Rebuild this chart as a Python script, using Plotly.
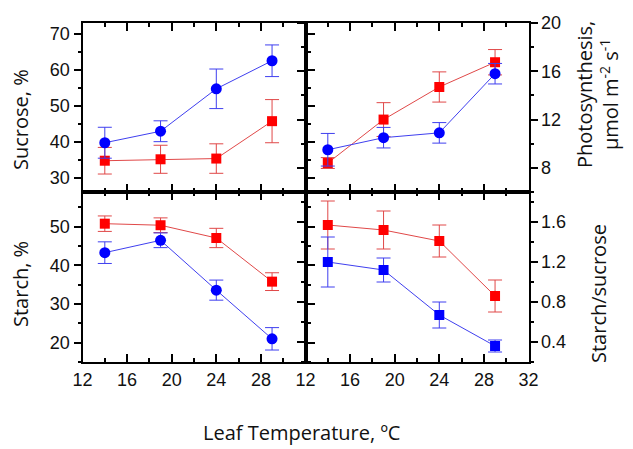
import plotly.graph_objects as go

# ---------------- data ----------------
temps = [14, 19, 24, 29]

sucrose_blue = [39.7, 42.9, 54.7, 62.5]
sucrose_blue_err = [4.3, 2.9, 5.5, 4.4]
sucrose_red = [34.7, 35.1, 35.3, 45.7]
sucrose_red_err = [3.7, 3.9, 4.1, 6.0]

photo_blue = [9.5, 10.5, 10.9, 15.8]
photo_blue_err = [1.35, 0.85, 0.85, 0.85]
photo_red = [8.4, 12.0, 14.7, 16.75]
photo_red_err = [0.45, 1.4, 1.25, 1.05]

starch_blue = [43.3, 46.5, 33.6, 21.0]
starch_blue_err = [2.8, 1.9, 2.6, 2.9]
starch_red = [50.8, 50.4, 47.1, 35.8]
starch_red_err = [2.0, 1.9, 2.5, 2.3]

ratio_blue = [1.20, 1.12, 0.67, 0.36]
ratio_blue_err = [0.25, 0.12, 0.13, 0.06]
ratio_red = [1.57, 1.52, 1.41, 0.86]
ratio_red_err = [0.24, 0.19, 0.16, 0.16]

x_ticks_left = [12, 16, 20, 24, 28]
x_ticks_right = [12, 16, 20, 24, 28, 32]

# ---------------- layout helpers ----------------
# the page body has an 8px margin, so the figure is drawn from (8, 8)
OFF = 8
W, H = 633 - OFF, 449 - OFF
def px(x):
    return (x - OFF) / W
def py(y):
    return 1 - (y - OFF) / H

X_L0, X_MID, X_R1 = 82.5, 305.5, 528.5
Y_T0, Y_MID, Y_B1 = 23, 192, 362

BLUE = "#0000FF"
RED = "#FF0000"
BLUE_LINE = "#3F3FEF"
RED_LINE = "#E04848"

fig = go.Figure()

def add_series(x, y, err, xa, ya, color, lcolor, symbol, size):
    fig.add_trace(go.Scatter(
        x=x, y=y, xaxis=xa, yaxis=ya, mode="lines+markers",
        line=dict(color=lcolor, width=1),
        marker=dict(color=color, symbol=symbol, size=size, line=dict(width=0)),
        error_y=dict(type="data", array=err, visible=True, color=lcolor,
                     thickness=1, width=7),
        showlegend=False, cliponaxis=False,
    ))

add_series(temps, sucrose_red, sucrose_red_err, "x", "y", RED, RED_LINE, "square", 10)
add_series(temps, sucrose_blue, sucrose_blue_err, "x", "y", BLUE, BLUE_LINE, "circle", 11)
add_series(temps, photo_red, photo_red_err, "x2", "y2", RED, RED_LINE, "square", 10)
add_series(temps, photo_blue, photo_blue_err, "x2", "y2", BLUE, BLUE_LINE, "circle", 11)
add_series(temps, starch_red, starch_red_err, "x3", "y3", RED, RED_LINE, "square", 10)
add_series(temps, starch_blue, starch_blue_err, "x3", "y3", BLUE, BLUE_LINE, "circle", 11)
add_series(temps, ratio_red, ratio_red_err, "x4", "y4", RED, RED_LINE, "square", 10)
add_series(temps, ratio_blue, ratio_blue_err, "x4", "y4", BLUE, BLUE_LINE, "square", 10)

TICKFONT = dict(family="Liberation Sans, Arial, sans-serif", size=18, color="#111111")
TITLEFONT = dict(family="Open Sans, Lato, sans-serif", size=20, color="#111111")

def xaxis(domain, anchor, labels, tickvals):
    return dict(
        domain=domain, anchor=anchor, range=[12, 32], showgrid=False, zeroline=False,
        automargin=False,
        showline=True, linecolor="black", linewidth=2, mirror="ticks",
        ticks="inside", ticklen=8, tickwidth=1.5, tickcolor="black",
        tickmode="array", tickvals=tickvals,
        showticklabels=labels, tickfont=TICKFONT,
        minor=dict(dtick=2, tick0=12, ticks="inside", ticklen=4, tickwidth=1.5, tickcolor="black"),
    )

def yaxis(domain, anchor, rng, dtick, minor, side):
    return dict(
        domain=domain, anchor=anchor, range=rng, side=side, showgrid=False, zeroline=False,
        automargin=False,
        showline=True, linecolor="black", linewidth=2, mirror="ticks",
        ticks="outside", ticklen=7, tickwidth=1.5, tickcolor="black",
        dtick=dtick, tick0=0, tickfont=TICKFONT,
        minor=dict(dtick=minor, tick0=0, ticks="outside", ticklen=3, tickwidth=1.5, tickcolor="black"),
    )

xd_left = [px(X_L0), px(X_MID)]
xd_right = [px(X_MID), px(X_R1)]
yd_top = [py(Y_MID), py(Y_T0)]
yd_bot = [py(Y_B1), py(Y_MID)]

annotations = [
    dict(text="Sucrose, %", x=px(20), y=py(120), textangle=-90),
    dict(text="Starch, %", x=px(20), y=py(284), textangle=-90),
    dict(text="Photosynthesis,<br>μmol m<sup>-2</sup> s<sup>-1</sup>", x=px(597), y=py(95), textangle=-90),
    dict(text="Starch/sucrose", x=px(598), y=py(294), textangle=-90),
    dict(text="Leaf Temperature, ºC", x=px(301), y=py(432), textangle=0),
]
for a in annotations:
    a.update(xref="paper", yref="paper", showarrow=False, font=TITLEFONT,
             xanchor="center", yanchor="middle")

fig.update_layout(
    width=W, height=H, margin=dict(l=0, r=0, t=0, b=0, autoexpand=False),
    paper_bgcolor="white", plot_bgcolor="white",
    xaxis=xaxis(xd_left, "y", False, x_ticks_right),
    xaxis2=xaxis(xd_right, "y2", False, x_ticks_right),
    xaxis3=xaxis(xd_left, "y3", True, x_ticks_left),
    xaxis4=xaxis(xd_right, "y4", True, x_ticks_right),
    yaxis=yaxis(yd_top, "x", [26, 73], 10, 5, "left"),
    yaxis2=yaxis(yd_top, "x2", [6, 20], 4, 2, "right"),
    yaxis3=yaxis(yd_bot, "x3", [15, 59], 10, 5, "left"),
    yaxis4=yaxis(yd_bot, "x4", [0.2, 1.9], 0.4, 0.2, "right"),
    annotations=annotations,
)

fig.write_html("out.html")
